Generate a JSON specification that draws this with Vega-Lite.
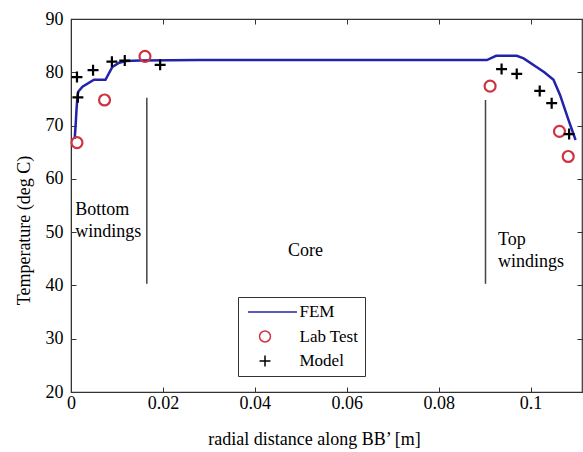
{
  "$schema": "https://vega.github.io/schema/vega-lite/v6.json",
  "width": 511,
  "height": 373,
  "autosize": {"type": "none"},
  "padding": {"left": 71, "top": 19, "right": 1, "bottom": 60},
  "background": "white",
  "config": {
    "view": {"stroke": "#333333", "strokeWidth": 1.2},
    "font": "Liberation Serif",
    "axis": {
      "grid": false,
      "domainColor": "#333333",
      "tickColor": "#333333",
      "labelColor": "black",
      "titleColor": "black",
      "labelFont": "Liberation Serif",
      "titleFont": "Liberation Serif",
      "labelFontSize": 18,
      "titleFontSize": 18,
      "titleFontWeight": "normal",
      "tickSize": -5,
      "labelFlush": false
    }
  },
  "datasets": {
    "fem": [
      {"x": 0.0008, "y": 67.5},
      {"x": 0.0010, "y": 70.0},
      {"x": 0.0012, "y": 73.0},
      {"x": 0.0014, "y": 75.5},
      {"x": 0.0016, "y": 76.4},
      {"x": 0.0025, "y": 77.3},
      {"x": 0.0050, "y": 78.6},
      {"x": 0.0075, "y": 78.6},
      {"x": 0.0090, "y": 81.0},
      {"x": 0.0105, "y": 81.8},
      {"x": 0.0120, "y": 82.1},
      {"x": 0.0150, "y": 82.2},
      {"x": 0.0280, "y": 82.3},
      {"x": 0.0905, "y": 82.3},
      {"x": 0.0925, "y": 83.1},
      {"x": 0.0970, "y": 83.1},
      {"x": 0.0985, "y": 82.6},
      {"x": 0.1013, "y": 81.0},
      {"x": 0.1030, "y": 80.0},
      {"x": 0.1050, "y": 78.6},
      {"x": 0.1064, "y": 75.8},
      {"x": 0.1082, "y": 71.2},
      {"x": 0.1098, "y": 67.3}
    ],
    "points": [
      {"series": "Lab Test", "x": 0.0013, "y": 66.8},
      {"series": "Lab Test", "x": 0.0073, "y": 74.8},
      {"series": "Lab Test", "x": 0.0161, "y": 83.0},
      {"series": "Lab Test", "x": 0.0912, "y": 77.4},
      {"series": "Lab Test", "x": 0.1063, "y": 68.9},
      {"series": "Lab Test", "x": 0.1082, "y": 64.2},
      {"series": "Model", "x": 0.0013, "y": 79.1},
      {"series": "Model", "x": 0.0015, "y": 75.3},
      {"series": "Model", "x": 0.0048, "y": 80.4},
      {"series": "Model", "x": 0.0089, "y": 82.0},
      {"series": "Model", "x": 0.0117, "y": 82.2},
      {"series": "Model", "x": 0.0194, "y": 81.4},
      {"series": "Model", "x": 0.0937, "y": 80.6},
      {"series": "Model", "x": 0.0970, "y": 79.7},
      {"series": "Model", "x": 0.1020, "y": 76.5},
      {"series": "Model", "x": 0.1046, "y": 74.2},
      {"series": "Model", "x": 0.1084, "y": 68.4}
    ],
    "dividers": [
      {"x": 0.0165, "y": 40.3, "y2": 75.2},
      {"x": 0.0902, "y": 40.3, "y2": 74.8}
    ],
    "labels": [
      {"x": 0.0009, "y": 54.2, "label": "Bottom"},
      {"x": 0.0009, "y": 50.1, "label": "windings"},
      {"x": 0.0472, "y": 46.5, "label": "Core"},
      {"x": 0.0929, "y": 48.5, "label": "Top"},
      {"x": 0.0929, "y": 44.4, "label": "windings"}
    ]
  },
  "layer": [
    {
      "data": {"name": "dividers"},
      "mark": {"type": "rule", "color": "#444444", "strokeWidth": 1.5},
      "encoding": {
        "x": {
          "field": "x", "type": "quantitative",
          "scale": {"domain": [0, 0.1112], "nice": false, "zero": false},
          "axis": {
            "orient": "bottom",
            "values": [0, 0.02, 0.04, 0.06, 0.08, 0.1],
            "format": "~f",
            "labelPadding": 7,
            "title": "radial distance along BB’ [m]",
            "titleX": 243,
            "titleY": 52,
            "titleBaseline": "alphabetic",
            "titleAnchor": null
          }
        },
        "y": {
          "field": "y", "type": "quantitative",
          "scale": {"domain": [20, 90], "nice": false, "zero": false},
          "axis": {
            "orient": "left",
            "values": [20, 30, 40, 50, 60, 70, 80, 90],
            "labelPadding": 13,
            "title": "Temperature (deg C)",
            "titleAngle": -90,
            "titleX": -42,
            "titleY": 211,
            "titleAlign": "center",
            "titleBaseline": "alphabetic",
            "titleAnchor": null
          }
        },
        "y2": {"field": "y2"}
      }
    },
    {
      "data": {"name": "dividers"},
      "mark": {"type": "point", "opacity": 0},
      "encoding": {
        "x": {
          "field": "x", "type": "quantitative",
          "scale": {"domain": [0, 0.1112], "nice": false, "zero": false},
          "axis": {"orient": "top", "values": [0, 0.02, 0.04, 0.06, 0.08, 0.1], "labels": false, "domain": false, "title": null}
        },
        "y": {
          "field": "y", "type": "quantitative",
          "scale": {"domain": [20, 90], "nice": false, "zero": false},
          "axis": {"orient": "right", "values": [20, 30, 40, 50, 60, 70, 80, 90], "labels": false, "domain": false, "title": null}
        }
      }
    },
    {
      "data": {"name": "fem"},
      "mark": {"type": "line", "color": "#2222aa", "strokeWidth": 2.5},
      "encoding": {
        "x": {"field": "x", "type": "quantitative", "scale": {"domain": [0, 0.1112], "nice": false, "zero": false}, "axis": null},
        "y": {"field": "y", "type": "quantitative", "scale": {"domain": [20, 90], "nice": false, "zero": false}, "axis": null}
      }
    },
    {
      "data": {"name": "points"},
      "mark": {"type": "point", "filled": false, "size": 120, "strokeWidth": 2.2, "opacity": 1},
      "encoding": {
        "x": {"field": "x", "type": "quantitative", "scale": {"domain": [0, 0.1112], "nice": false, "zero": false}, "axis": null},
        "y": {"field": "y", "type": "quantitative", "scale": {"domain": [20, 90], "nice": false, "zero": false}, "axis": null},
        "color": {
          "field": "series", "type": "nominal",
          "scale": {"domain": ["FEM", "Lab Test", "Model"], "range": ["#2222aa", "#d03340", "#000000"]},
          "legend": {
            "title": null,
            "orient": "none",
            "legendX": 167,
            "legendY": 278,
            "strokeColor": "#333333",
            "fillColor": "white",
            "padding": 6.5,
            "rowPadding": 6.5,
            "symbolOffset": 12,
            "labelOffset": 26,
            "symbolSize": 120,
            "labelFont": "Liberation Serif",
            "labelFontSize": 17,
            "labelColor": "black",
            "symbolOpacity": 1,
            "encode": {"symbols": {"update": {"strokeWidth": {"signal": "datum.value === 'FEM' ? 2.5 : 2.2"}}}}
          }
        },
        "shape": {
          "field": "series", "type": "nominal",
          "scale": {"domain": ["FEM", "Lab Test", "Model"], "range": ["M-3.1,0H5.85", "circle", "M-1,0H1M0,-1V1"]},
          "legend": {
            "title": null,
            "orient": "none",
            "legendX": 167,
            "legendY": 278,
            "strokeColor": "#333333",
            "fillColor": "white",
            "padding": 6.5,
            "rowPadding": 6.5,
            "symbolOffset": 12,
            "labelOffset": 26,
            "symbolSize": 120,
            "labelFont": "Liberation Serif",
            "labelFontSize": 17,
            "labelColor": "black",
            "symbolOpacity": 1,
            "encode": {"symbols": {"update": {"strokeWidth": {"signal": "datum.value === 'FEM' ? 2.5 : 2.2"}}}}
          }
        }
      }
    },
    {
      "data": {"name": "labels"},
      "mark": {"type": "text", "align": "left", "baseline": "middle", "font": "Liberation Serif", "fontSize": 18, "color": "black"},
      "encoding": {
        "x": {"field": "x", "type": "quantitative", "scale": {"domain": [0, 0.1112], "nice": false, "zero": false}, "axis": null},
        "y": {"field": "y", "type": "quantitative", "scale": {"domain": [20, 90], "nice": false, "zero": false}, "axis": null},
        "text": {"field": "label"}
      }
    }
  ],
  "resolve": {"axis": {"x": "independent", "y": "independent"}}
}
